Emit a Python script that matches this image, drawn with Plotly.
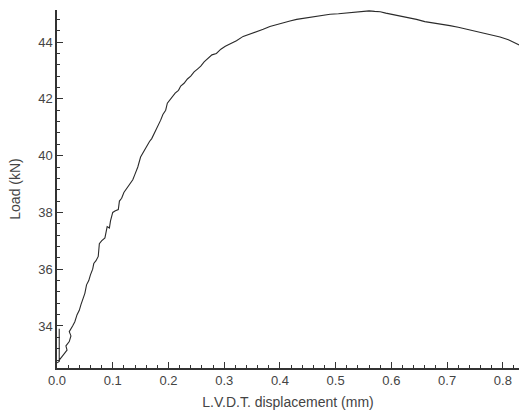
import plotly.graph_objects as go

# L.V.D.T. displacement (mm)
disp = [0.000, 0.004, 0.004, 0.004, 0.010, 0.018, 0.016, 0.022, 0.025, 0.022,
        0.028, 0.032, 0.036, 0.040, 0.043, 0.047, 0.050, 0.053, 0.057, 0.060,
        0.064, 0.066, 0.070, 0.074, 0.076, 0.080, 0.086, 0.090, 0.094, 0.096,
        0.100, 0.104, 0.110, 0.112, 0.116, 0.120, 0.125, 0.128, 0.132, 0.136,
        0.140, 0.145, 0.150, 0.154, 0.158, 0.162, 0.166, 0.170, 0.174, 0.178,
        0.182, 0.186, 0.190, 0.195, 0.198, 0.202, 0.206, 0.212, 0.218, 0.222,
        0.228, 0.234, 0.240, 0.246, 0.252, 0.258, 0.264, 0.270, 0.278, 0.286,
        0.294, 0.302, 0.312, 0.322, 0.334, 0.346, 0.358, 0.370, 0.382, 0.394,
        0.406, 0.418, 0.430, 0.445, 0.460, 0.475, 0.490, 0.505, 0.520, 0.535,
        0.550, 0.560, 0.570, 0.580, 0.590, 0.600, 0.610, 0.620, 0.632, 0.645,
        0.660, 0.675, 0.690, 0.705, 0.720, 0.735, 0.750, 0.765, 0.780, 0.795,
        0.810, 0.825, 0.835]

# Load (kN)
load = [32.70, 32.75, 33.90, 32.80, 32.95, 33.15, 33.30, 33.45, 33.65, 33.80,
        34.00, 34.15, 34.40, 34.55, 34.75, 35.00, 35.15, 35.45, 35.60, 35.80,
        36.00, 36.20, 36.30, 36.45, 36.90, 37.00, 37.10, 37.50, 37.45, 37.70,
        38.00, 38.05, 38.10, 38.40, 38.50, 38.70, 38.85, 38.95, 39.05, 39.15,
        39.35, 39.60, 39.95, 40.10, 40.25, 40.35, 40.50, 40.60, 40.75, 40.95,
        41.10, 41.25, 41.45, 41.60, 41.85, 41.95, 42.05, 42.20, 42.30, 42.45,
        42.55, 42.70, 42.80, 42.95, 43.05, 43.15, 43.30, 43.40, 43.55, 43.60,
        43.75, 43.85, 43.95, 44.05, 44.20, 44.28, 44.38, 44.45, 44.55, 44.62,
        44.68, 44.74, 44.80, 44.85, 44.90, 44.93, 44.98, 45.00, 45.03, 45.06,
        45.08, 45.10, 45.08, 45.07, 45.02, 44.98, 44.96, 44.92, 44.85, 44.80,
        44.72, 44.68, 44.62, 44.58, 44.52, 44.45, 44.38, 44.32, 44.25, 44.18,
        44.08, 43.95, 43.85]

x_ticks = [0.0, 0.1, 0.2, 0.3, 0.4, 0.5, 0.6, 0.7, 0.8]
x_labels = ["0.0", "0.1", "0.2", "0.3", "0.4", "0.5", "0.6", "0.7", "0.8"]
y_ticks = [34, 36, 38, 40, 42, 44]

fig = go.Figure()
fig.add_trace(go.Scatter(x=disp, y=load, mode="lines",
                         line=dict(color="#2a2a2a", width=1.1),
                         showlegend=False, hoverinfo="skip"))

fam = "Liberation Sans, Arial, sans-serif"
tick_font = dict(family=fam, size=13, color="#444")
title_font = dict(family=fam, size=14, color="#444")
fig.update_layout(
    width=519, height=414,
    margin=dict(l=57, r=0, t=10, b=46),
    paper_bgcolor="white", plot_bgcolor="white",
    font=tick_font,
    xaxis=dict(
        range=[0, 0.829], tickvals=x_ticks, ticktext=x_labels,
        showgrid=False, zeroline=False,
        showline=True, linecolor="#333", linewidth=1.5,
        ticks="inside", ticklen=6, tickwidth=1, tickcolor="#333",
        minor=dict(dtick=0.02, ticks="inside", ticklen=3, tickcolor="#333", showgrid=False),
        title=dict(text="L.V.D.T. displacement (mm)", standoff=10, font=title_font),
        tickfont=tick_font,
    ),
    yaxis=dict(
        range=[32.52, 45.13], tickvals=y_ticks,
        showgrid=False, zeroline=False,
        showline=True, linecolor="#333", linewidth=1.5,
        ticks="inside", ticklen=6, tickwidth=1, tickcolor="#333",
        minor=dict(dtick=0.4, tick0=34, ticks="inside", ticklen=3, tickcolor="#333", showgrid=False),
        title=dict(text="Load (kN)", standoff=14, font=title_font),
        tickfont=tick_font,
    ),
)

fig.write_html("out.html")
